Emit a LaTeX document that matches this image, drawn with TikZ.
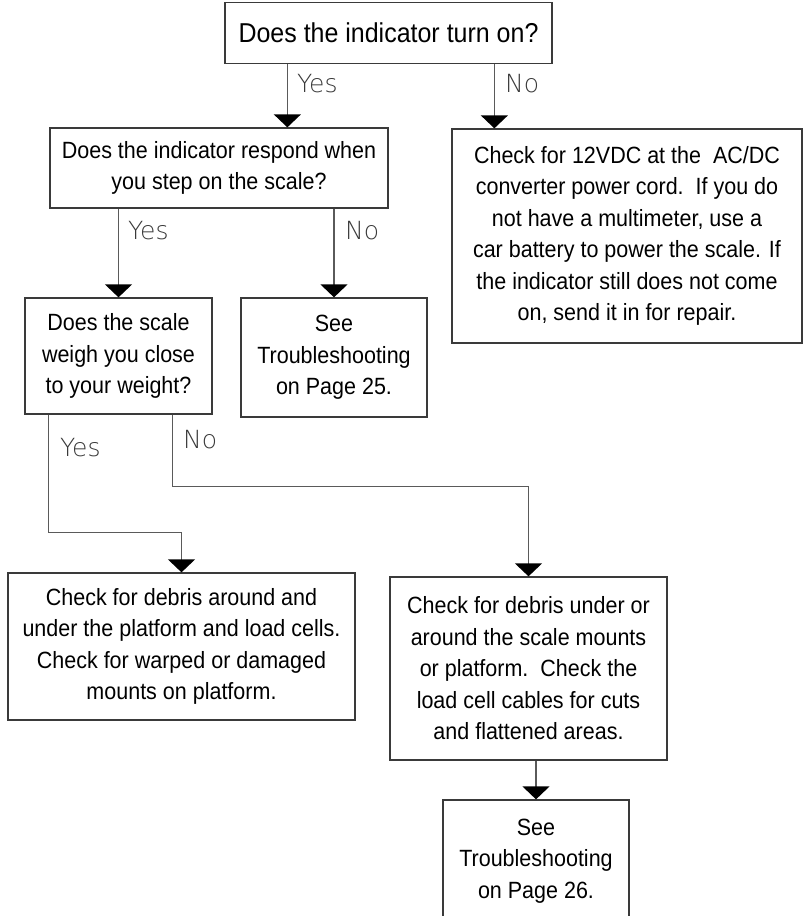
\documentclass[tikz,border=0pt]{standalone}
\usepackage{fontspec}
\setmainfont{Liberation Sans}[FakeStretch=0.915]
\newfontfamily\thinfont{DejaVu Sans ExtraLight}
\usetikzlibrary{arrows.meta}
\definecolor{myboxcolor}{HTML}{3a3a3a}
\definecolor{mylinecolor}{HTML}{5a5a5a}
\tikzset{
  box/.style={draw=myboxcolor, line width=1.3pt, rectangle, align=center, inner sep=0pt,
    font=\fontsize{23.5pt}{31.5pt}\selectfont},
  answer/.style={anchor=west, inner sep=0pt, text=myboxcolor, font=\thinfont\fontsize{25pt}{25pt}\selectfont},
  arr/.style={draw=mylinecolor, line width=1.3pt, -{Triangle[width=27pt,length=13pt,color=black]}}
}

\begin{document}
\begin{tikzpicture}[x=1pt, y=-1pt]%
\useasboundingbox (0,0) rectangle (806,916);%
\clip (0,0) rectangle (806,916);%
% questions
\node[box, minimum width=327pt, minimum height=61pt, font=\fontsize{27.3pt}{31pt}\selectfont] (q1) at (388.5, 33) {Does the indicator turn on?};%
\node[box, minimum width=338pt, minimum height=80pt] (q2) at (219, 168) {Does the indicator respond when\\you step on the scale?};%
\node[box, minimum width=187pt, minimum height=116pt] (q3) at (118.5, 356) {Does the scale\\weigh you close\\to your weight?};%
% answers
\node[box, minimum width=350pt, minimum height=214pt] (fix1) at (627, 236) {Check for 12VDC at the\ \ AC/DC\\converter power cord.\ \ If you do\\not have a multimeter, use a\\car battery to power the scale. If\\the indicator still does not come\\on, send it in for repair.};%
\node[box, minimum width=186pt, minimum height=119pt] (see25) at (334, 357.5) {See\\Troubleshooting\\on Page 25.};%
\node[box, minimum width=347pt, minimum height=147pt] (fix2) at (181.5, 646.5) {Check for debris around and\\under the platform and load cells.\\Check for warped or damaged\\mounts on platform.};%
\node[box, minimum width=277pt, minimum height=183pt] (fix3) at (528.5, 668.5) {Check for debris under or\\around the scale mounts\\or platform.\ \ Check the\\load cell cables for cuts\\and flattened areas.};%
\node[box, minimum width=186pt, minimum height=122pt] (see26) at (536, 861) {See\\Troubleshooting\\on Page 26.};%
% connectors
\draw[arr] ([xshift=63pt]q1.south west) -- ([xshift=63pt]q1.south west |- q2.north);%
\draw[arr] ([xshift=270pt]q1.south west) -- ([xshift=270pt]q1.south west |- fix1.north);%
\draw[arr] (q2.south -| q3.north) -- (q3.north);%
\draw[arr] (q2.south -| see25.north) -- (see25.north);%
\draw[arr] ([xshift=24pt]q3.south west) -- ++(0,118) -| (fix2.north);%
\draw[arr] ([xshift=-40pt]q3.south east) -- ++(0,72) -| (fix3.north);%
\draw[arr] (fix3.south -| see26.north) -- (see26.north);%
% yes / no
\node[answer] (yes1) at (297, 84) {Yes};%
\node[answer] (no1) at (505, 84) {No};%
\node[answer] (yes2) at (128, 231) {Yes};%
\node[answer] (no2) at (345, 231) {No};%
\node[answer] (yes3) at (60, 448) {Yes};%
\node[answer] (no3) at (183, 440) {No};%
\end{tikzpicture}
\end{document}
